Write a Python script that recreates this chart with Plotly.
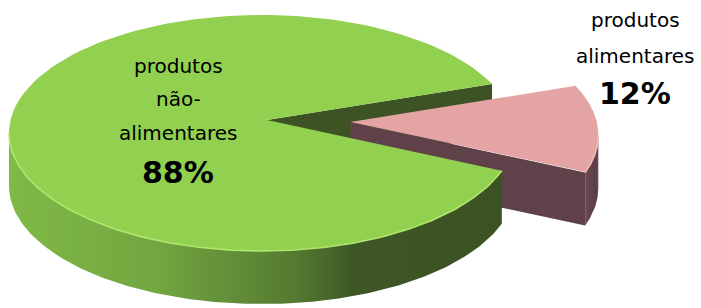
import numpy as np
import plotly.graph_objects as go

# ---- data ----
categories = ["produtos alimentares", "produtos não-alimentares"]
values = [12, 88]
label_lines = [["produtos", "alimentares"], ["produtos", "não-", "alimentares"]]

# ---- geometry / style (pixel-space axes) ----
W, HGT = 701, 308
CX, CY, RA, RB, DEPTH = 262, 133, 253, 118, 53
APEX_DX, APEX_DY = 5, -13          # perspective shift of the pie centre
START = -18.6                       # start angle (deg) of first slice
PULL = [0.33, 0.0]
PULL_DY = 4                         # perspective drop of the pulled slice
TOP_COL = ["#E5A4A4", "#92D050"]
CUT_COL = ["#5F4249", "#3D5323"]
SIDE_SCALE = [
    [[0, "#6A4A53"], [0.85, "#5B3D45"], [1, "#7A5A62"]],
    [[0, "#80B946"], [0.3, "#72A640"], [0.58, "#557A31"], [0.7, "#3E5725"], [1, "#3B5223"]],
]
RIM_COL = ["rgba(240,190,190,0.9)", "rgba(178,232,110,0.95)"]
LABEL_POS = [(635, [20, 56], 93), (178, [66, 99, 133], 172)]

total = sum(values)
slices = []
a0 = START
for i, v in enumerate(values):
    a1 = a0 + 360.0 * v / total
    mid = np.radians((a0 + a1) / 2)
    off = (PULL[i] * RA * np.cos(mid), -PULL[i] * RB * np.sin(mid) + (PULL_DY if PULL[i] > 0 else 0))
    slices.append((a0, a1, off))
    a0 = a1


def rim(t, z, off):
    r = np.radians(t)
    return (CX + off[0] + RA * np.cos(r), CY + off[1] - RB * np.sin(r) + z * DEPTH)


def arc(t0, t1, z, off, n=160):
    ts = np.linspace(t0, t1, n)
    pts = [rim(t, z, off) for t in ts]
    return [p[0] for p in pts], [p[1] for p in pts]


def apex(z, off):
    return (CX + APEX_DX + off[0], CY + APEX_DY + off[1] + z * DEPTH)


def front_ranges(t0, t1):
    out = []
    for k in range(-2, 3):
        lo, hi = k * 360 - 180, k * 360
        a, b = max(t0, lo), min(t1, hi)
        if b > a:
            out.append((a, b))
    return out


def cut_face(t, off):
    p0, p3 = apex(0, off), apex(1, off)
    p1, p2 = rim(t, 0, off), rim(t, 1, off)
    return [p0[0], p1[0], p2[0], p3[0], p0[0]], [p0[1], p1[1], p2[1], p3[1], p0[1]]


fig = go.Figure()


def poly(xs, ys, color=None, grad=None, name=""):
    kw = dict(x=xs, y=ys, mode="lines", fill="toself", line=dict(width=0, color="rgba(0,0,0,0)"),
              hoverinfo="skip", showlegend=False, name=name)
    if grad is not None:
        kw["fillgradient"] = dict(type="horizontal", colorscale=grad)
    else:
        kw["fillcolor"] = color
    fig.add_trace(go.Scatter(**kw))


def draw_cuts(i):
    t0, t1, off = slices[i]
    if np.cos(np.radians(t0)) > 0:
        xs, ys = cut_face(t0, off)
        poly(xs, ys, CUT_COL[i], name=categories[i])
    if np.cos(np.radians(t1)) < 0:
        xs, ys = cut_face(t1, off)
        poly(xs, ys, CUT_COL[i], name=categories[i])


def draw_side(i):
    t0, t1, off = slices[i]
    for a, b in front_ranges(t0, t1):
        xt, yt = arc(a, b, 0, off)
        xb, yb = arc(b, a, 1, off)
        poly(xt + xb, yt + yb, grad=SIDE_SCALE[i], name=categories[i])


def draw_top(i):
    t0, t1, off = slices[i]
    xa, ya = arc(t0, t1, 0, off)
    p = apex(0, off)
    poly([p[0]] + xa + [p[0]], [p[1]] + ya + [p[1]], TOP_COL[i], name=categories[i])
    for a, b in front_ranges(t0, t1):
        xr, yr = arc(a, b, 0, off)
        fig.add_trace(go.Scatter(x=xr, y=yr, mode="lines", line=dict(width=1.6, color=RIM_COL[i]),
                                 hoverinfo="skip", showlegend=False))


# painter's order: green cut face, pink slice, green side & top
draw_cuts(1)
draw_cuts(0)
draw_side(0)
draw_top(0)
draw_side(1)
draw_top(1)

annotations = []
for i in range(len(values)):
    x, ys, yp = LABEL_POS[i]
    for line, y in zip(label_lines[i], ys):
        annotations.append(dict(x=x, y=y, xref="x", yref="y", text=line, showarrow=False,
                                font=dict(family="DejaVu Sans", size=20, color="#000000")))
    annotations.append(dict(x=x, y=yp, xref="x", yref="y", text=f"<b>{values[i]}%</b>", showarrow=False,
                            font=dict(family="DejaVu Sans", size=30, color="#000000")))

fig.update_layout(
    width=W, height=HGT, margin=dict(l=0, r=0, t=0, b=0),
    paper_bgcolor="white", plot_bgcolor="white",
    xaxis=dict(range=[0, W], visible=False, fixedrange=True),
    yaxis=dict(range=[HGT, 0], visible=False, fixedrange=True),
    annotations=annotations,
)

fig.write_html("out.html", config={"displayModeBar": False},
               post_script="document.body.style.margin='0';document.body.style.overflow='hidden';")
